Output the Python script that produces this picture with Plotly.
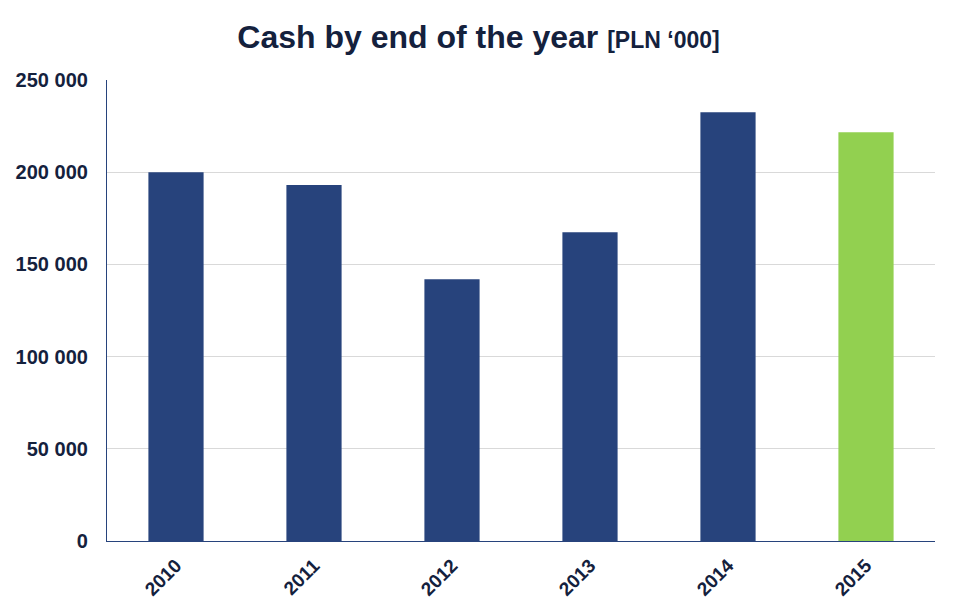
import plotly.graph_objects as go

years = ["2010", "2011", "2012", "2013", "2014", "2015"]
cash = [200000, 193000, 142000, 167500, 232500, 221700]
bar_colors = ["#27437C", "#27437C", "#27437C", "#27437C", "#27437C", "#92D050"]
ytick_vals = [0, 50000, 100000, 150000, 200000, 250000]

text_color = "#14213D"
font_family = "Liberation Sans, Arial, sans-serif"

fig = go.Figure(go.Bar(x=years, y=cash, marker=dict(color=bar_colors, line=dict(width=0)),
                       hoverinfo="x+y"))

# page has an 8px body margin, so the figure is sized to fit inside the window
fig.update_layout(
    width=941, height=600,
    margin=dict(l=99, r=14, t=72, b=67),
    paper_bgcolor="white", plot_bgcolor="white",
    separators=". ",
    bargap=0.6,
    showlegend=False,
    title=dict(
        text="<b>Cash by end of the year <span style='font-size:23px'>[PLN ‘000]</span></b>",
        x=0.5, xanchor="center", y=0.952, yanchor="middle",
        font=dict(family=font_family, size=32, color=text_color),
    ),
    font=dict(family=font_family, color=text_color),
)

fig.update_xaxes(
    automargin=False,
    showline=True, linecolor="#27437C", linewidth=1.2,
    showgrid=False, tickangle=-45,
    tickfont=dict(family=font_family, size=19, color=text_color, weight="bold"),
    ticks="outside", ticklen=5, tickcolor="rgba(0,0,0,0)",
)
fig.update_yaxes(
    automargin=False,
    range=[0, 250000], tickvals=ytick_vals, tickformat=",d",
    showline=True, linecolor="#27437C", linewidth=1.2,
    showgrid=True, gridcolor="#D9D9D9", gridwidth=1,
    zeroline=False,
    tickfont=dict(family=font_family, size=20, color=text_color, weight="bold"),
    ticks="outside", ticklen=14, tickcolor="rgba(0,0,0,0)",
)

fig.write_html("out.html")
